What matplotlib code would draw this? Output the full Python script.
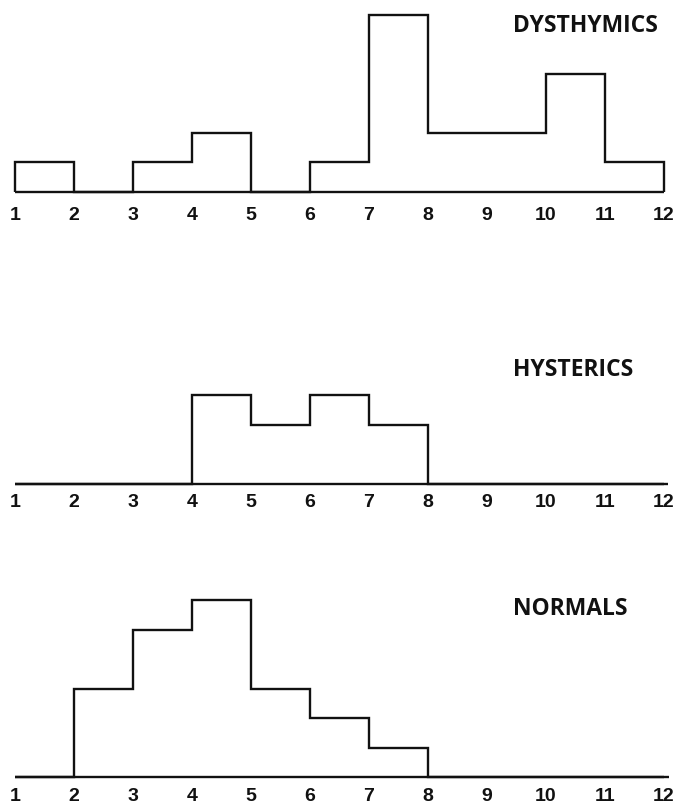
import matplotlib
matplotlib.use("Agg")
import matplotlib.pyplot as plt

# bin edges and counts per bin (bins 1-2, 2-3, ... 11-12)
edges = list(range(1, 13))
dysthymics = [1, 0, 1, 2, 0, 1, 6, 2, 2, 4, 1]
hysterics = [0, 0, 0, 3, 2, 3, 2, 0, 0, 0, 0]
normals = [0, 3, 5, 6, 3, 2, 1, 0, 0, 0, 0]
tick_labels = [str(i) for i in edges]

panels = [
    # name, counts, axes bottom, label y, baseline end, tick pad
    ("DYSTHYMICS", dysthymics, 0.763, 5.62, 12.0, 10.5),
    ("HYSTERICS", hysterics, 0.4025, 3.88, 12.06, 7.5),
    ("NORMALS", normals, 0.0407, 5.68, 12.08, 8.0),
]

ink = "#111111"
fig = plt.figure(figsize=(6.8, 8.1), dpi=100)

for name, counts, bottom, label_y, base_end, pad in panels:
    ax = fig.add_axes([0, bottom, 1, 0.2367])
    ax.set_xlim(0.746, 12.271)
    ax.set_ylim(0, 6.5)

    ax.stairs(counts, edges, baseline=0, fill=False, color=ink, lw=1.7,
              clip_on=False)
    ax.hlines(0, edges[0], base_end, color=ink, lw=1.7, clip_on=False)

    ax.text(9.44, label_y, name, ha="left", va="center", fontsize=16.5,
            fontweight="bold", family="Open Sans", color=ink)

    for s in ax.spines.values():
        s.set_visible(False)
    ax.set_yticks([])
    ax.set_xticks(edges)
    ax.set_xticklabels(tick_labels, fontsize=14, fontweight="bold",
                       family="Liberation Sans", color=ink)
    ax.tick_params(axis="x", length=0, pad=pad)

fig.savefig("out.png", dpi=100)
